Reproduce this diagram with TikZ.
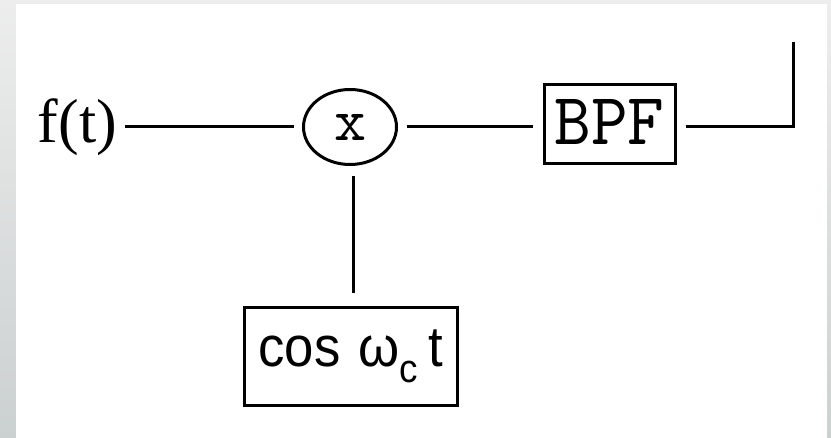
\documentclass[tikz,border=0pt]{standalone}
\usepackage{fontspec}
\usepackage{graphicx}
\setmainfont{Liberation Serif}
\newfontfamily\sansf{Liberation Sans}
\usetikzlibrary{shapes.geometric}
\definecolor{bgtop}{HTML}{EDEDED}
\definecolor{bgbot}{HTML}{CBD0D0}
\begin{document}
\begin{tikzpicture}[x=1pt,y=-1pt,
  wire/.style={line width=3pt},
  blockbox/.style={draw,line width=3pt,rectangle,inner sep=0pt},
  lbl/.style={inner sep=0pt,outer sep=0pt}]
\useasboundingbox (0,0) rectangle (831,438);
\shade[top color=bgtop,bottom color=bgbot] (0,0) rectangle (831,438);
\fill[white] (16,4) rectangle (827,438);
% nodes
\node[lbl] (ft) at (77.5,127) {\resizebox*{79pt}{57pt}{f(t)}};
\node[draw,ellipse,line width=3pt,inner sep=0pt,minimum width=93pt,minimum height=75pt] (mult) at (350,127) {\resizebox{32pt}{26pt}{\ttfamily x}};
\node[blockbox,minimum width=131pt,minimum height=79pt] (bpf) at (609.5,124) {\raisebox{3.5pt}{\resizebox{110pt}{45pt}{\ttfamily BPF}}};
\node[blockbox,minimum width=213pt,minimum height=98pt] (cosbox) at (351,356.5) {\resizebox*{185pt}{53pt}{\sansf cos\hspace{0.35em}ω\raisebox{-0.28em}{\fontsize{7pt}{8pt}\selectfont c}\hspace{0.2em}t}};
\coordinate (corner) at (793,127);
\coordinate (outend) at (793,42);
% connectors
\draw[wire,shorten <=8pt,shorten >=8.5pt] (ft) -- (mult);
\draw[wire,shorten <=8.5pt,shorten >=10pt] (mult.east) -- (mult.east -| bpf.west);
\draw[wire,shorten <=9pt] (bpf.east |- corner) -- (corner) -- (outend);
\draw[wire,shorten <=10.5pt,shorten >=12.5pt] ([xshift=3pt]mult.south) -- ([xshift=3pt]mult.south |- cosbox.north);
\end{tikzpicture}
\end{document}
